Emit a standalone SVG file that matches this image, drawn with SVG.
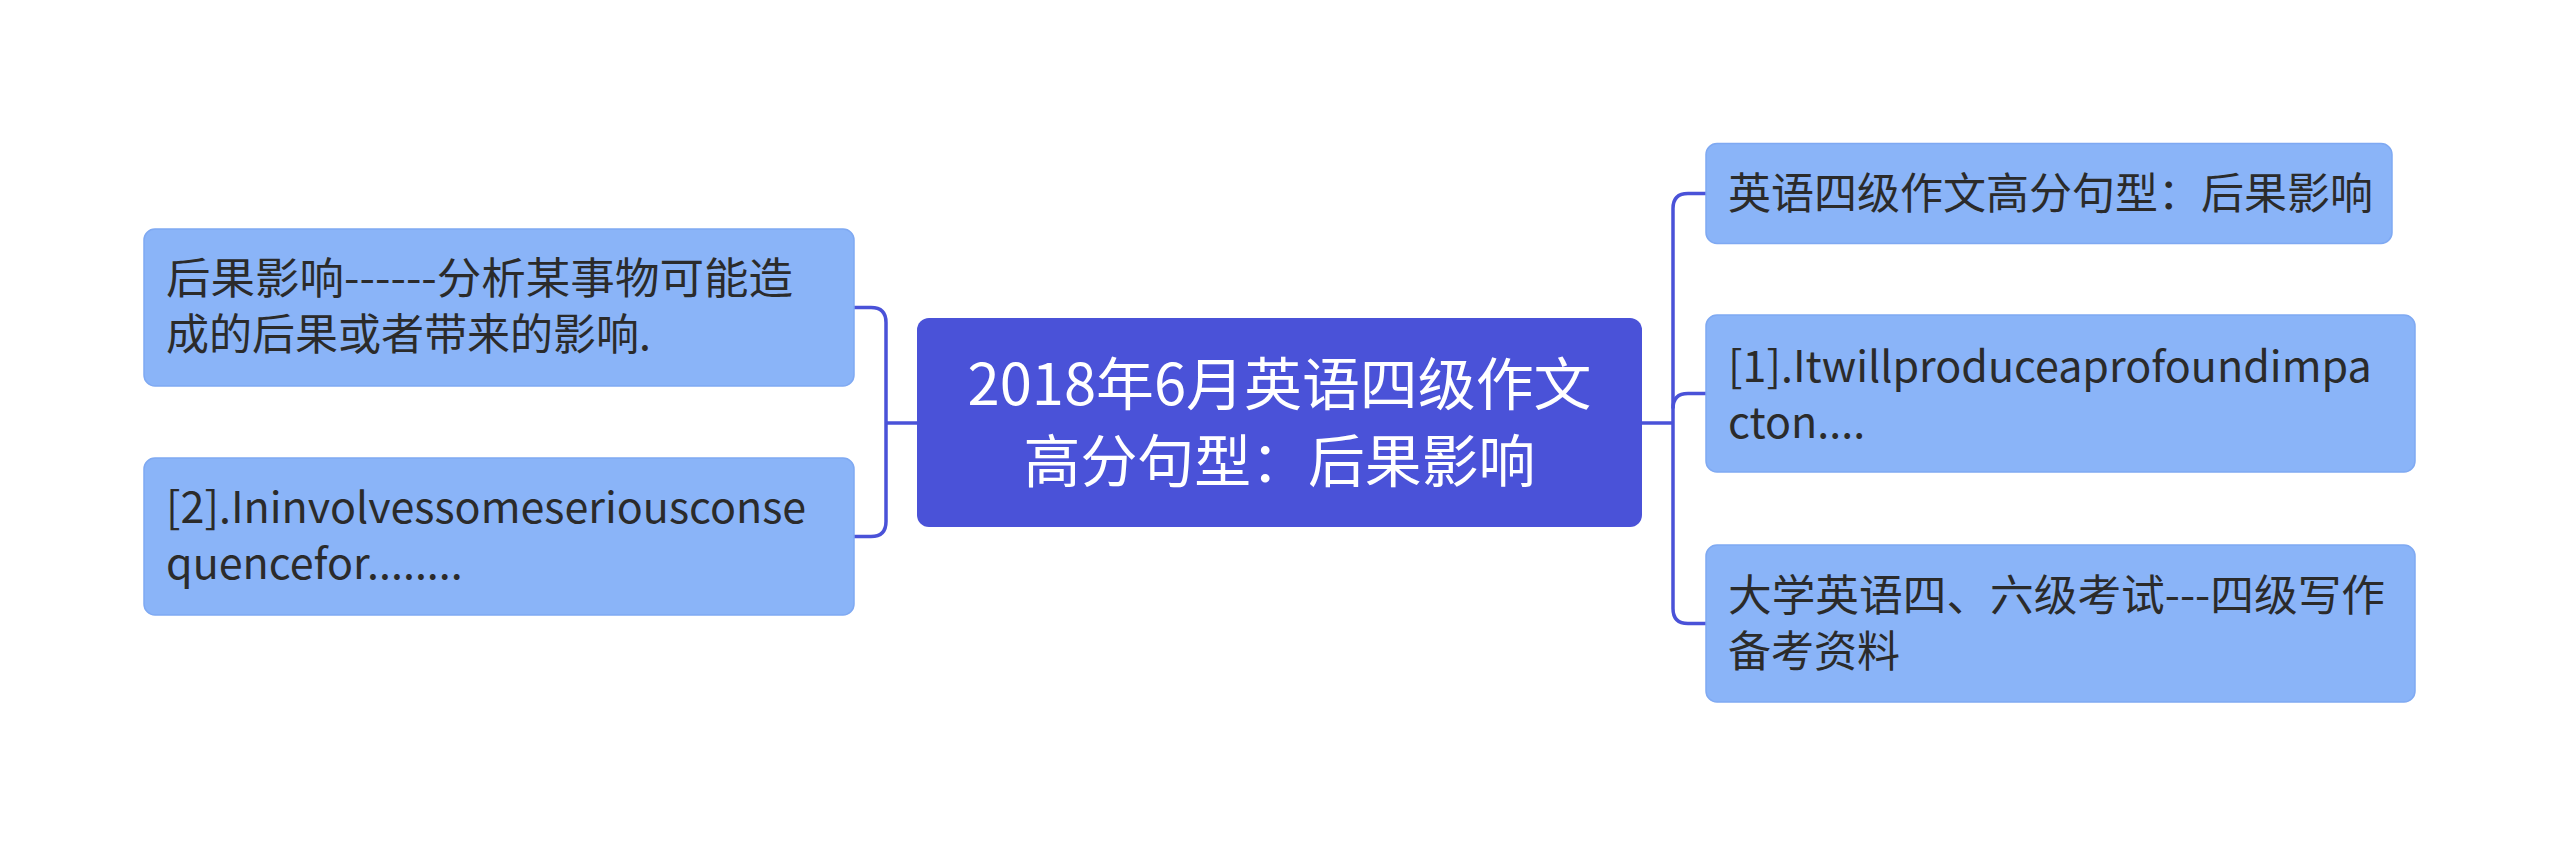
<svg xmlns="http://www.w3.org/2000/svg" width="2560" height="845" viewBox="0 0 2560 845">
<style>
.bg{fill:#ffffff}
.root rect{fill:#4A52D8}
.leaf rect{fill:#8AB4F8;stroke:#7FA9F2;stroke-width:1.5}
.root text{fill:#ffffff;font-family:"Noto Sans CJK SC","Noto Sans",sans-serif;font-size:57px;text-anchor:middle}
.leaf text{fill:#2B2B2B;font-family:"Noto Sans CJK SC","Noto Sans",sans-serif;font-size:43px}
.conn path{fill:none;stroke:#4A52D8;stroke-width:3.5}
</style>
<rect class="bg" x="0" y="0" width="2560" height="845"/>
<g class="conn" id="connectors">
<path d="M917,423 H886"/>
<path d="M854,307.5 H871 Q886,307.5 886,322.5 V521.5 Q886,536.5 871,536.5 H854"/>
<path d="M1642,423 H1673"/>
<path d="M1706,193.5 H1688 Q1673,193.5 1673,208.5 V608.5 Q1673,623.5 1688,623.5 H1706"/>
<path d="M1706,393.5 H1688 Q1673,393.5 1673,408.5"/>
</g>
<g class="root" id="root">
<rect x="917" y="318" width="725" height="209" rx="12"/>
<text><tspan x="1279.5" y="404.5" textLength="624" lengthAdjust="spacingAndGlyphs">2018年6月英语四级作文</tspan><tspan x="1279.5" y="482" textLength="512" lengthAdjust="spacingAndGlyphs">高分句型：后果影响</tspan></text>
</g>
<g class="leaf" id="left1">
<rect x="144" y="229" width="710" height="157" rx="11"/>
<text><tspan x="166" y="294" textLength="627" lengthAdjust="spacingAndGlyphs">后果影响------分析某事物可能造</tspan><tspan x="166" y="350">成的后果或者带来的影响.</tspan></text>
</g>
<g class="leaf" id="left2">
<rect x="144" y="458" width="710" height="157" rx="11"/>
<text><tspan x="166" y="523">[2].Ininvolvessomeseriousconse</tspan><tspan x="166" y="579">quencefor........</tspan></text>
</g>
<g class="leaf" id="right1">
<rect x="1706" y="143.5" width="686" height="100" rx="11"/>
<text x="1728" y="209">英语四级作文高分句型：后果影响</text>
</g>
<g class="leaf" id="right2">
<rect x="1706" y="315" width="709" height="157" rx="11"/>
<text><tspan x="1728" y="382">[1].Itwillproduceaprofoundimpa</tspan><tspan x="1728" y="438">cton....</tspan></text>
</g>
<g class="leaf" id="right3">
<rect x="1706" y="545" width="709" height="157" rx="11"/>
<text><tspan x="1728" y="611" textLength="657" lengthAdjust="spacingAndGlyphs">大学英语四、六级考试---四级写作</tspan><tspan x="1728" y="667">备考资料</tspan></text>
</g>
</svg>
